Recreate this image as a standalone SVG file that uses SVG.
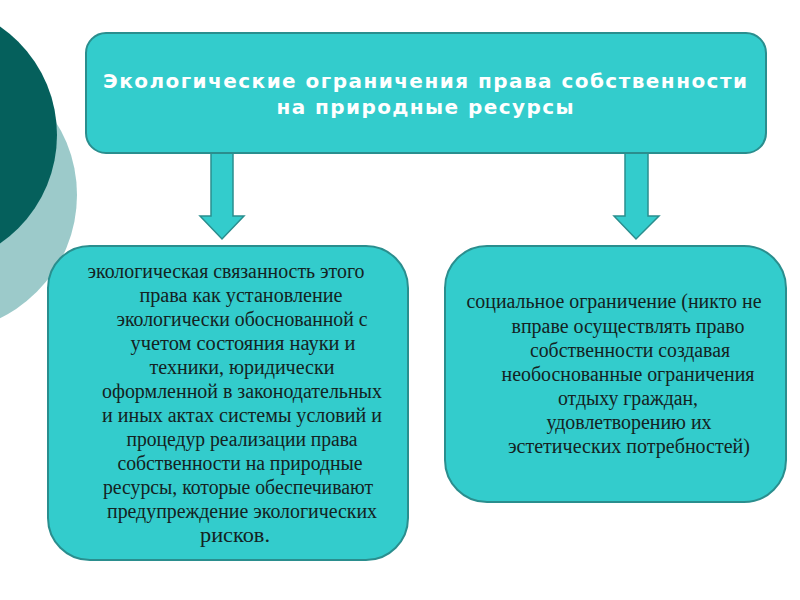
<svg xmlns="http://www.w3.org/2000/svg" width="800" height="600" viewBox="0 0 800 600">
<style>
.box{fill:#33cccc;stroke:#2a8e8e;stroke-width:2}
.arrow{fill:#33cccc;stroke:#2a8e8e;stroke-width:1.5}
.title{font-family:"DejaVu Sans",Verdana,sans-serif;font-weight:bold;font-size:20px;fill:#ffffff;text-anchor:middle}
.body{font-family:"Liberation Serif","Times New Roman",serif;font-size:20px;fill:#142222;text-anchor:middle}
</style>
<rect width="800" height="600" fill="#ffffff"/>
<g id="background">
<circle cx="-60" cy="195" r="137" fill="#9ccaca"/>
<circle cx="-75" cy="135" r="132" fill="#05605c"/>
</g>
<g id="connectors">
<path class="arrow" d="M211 153 L233 153 L233 216 L244 216 L222 239 L200 216 L211 216 Z"/>
<path class="arrow" d="M625 153 L648 153 L648 216 L659 216 L636 239 L614 216 L625 216 Z"/>
</g>
<g id="top">
<rect class="box" x="86" y="33" width="680" height="120" rx="20" ry="20"/>
<text class="title" x="425" y="88" textLength="644" lengthAdjust="spacing">Экологические ограничения права собственности</text>
<text class="title" x="425" y="114" textLength="297" lengthAdjust="spacing">на природные ресурсы</text>
</g>
<g id="left">
<rect class="box" x="48" y="246" width="360" height="314" rx="42" ry="42"/>
<text class="body" x="226" y="278" textLength="277" lengthAdjust="spacingAndGlyphs">экологическая связанность этого</text>
<text class="body" x="241" y="302" textLength="203" lengthAdjust="spacingAndGlyphs">права как установление</text>
<text class="body" x="242" y="326" textLength="251" lengthAdjust="spacingAndGlyphs">экологически обоснованной с</text>
<text class="body" x="243" y="350" textLength="225" lengthAdjust="spacingAndGlyphs">учетом состояния науки и</text>
<text class="body" x="242" y="374" textLength="185" lengthAdjust="spacingAndGlyphs">техники, юридически</text>
<text class="body" x="242" y="398" textLength="280" lengthAdjust="spacingAndGlyphs">оформленной в законодательных</text>
<text class="body" x="242" y="422" textLength="280" lengthAdjust="spacingAndGlyphs">и иных актах системы условий и</text>
<text class="body" x="242" y="446" textLength="231" lengthAdjust="spacingAndGlyphs">процедур реализации права</text>
<text class="body" x="240" y="470" textLength="245" lengthAdjust="spacingAndGlyphs">собственности на природные</text>
<text class="body" x="238" y="494" textLength="270" lengthAdjust="spacingAndGlyphs">ресурсы, которые обеспечивают</text>
<text class="body" x="242" y="518" textLength="270" lengthAdjust="spacingAndGlyphs">предупреждение экологических</text>
<text class="body" x="235" y="542" textLength="70" lengthAdjust="spacingAndGlyphs">рисков.</text>
</g>
<g id="right">
<rect class="box" x="445" y="246" width="341" height="256" rx="42" ry="42"/>
<text class="body" x="614" y="308" textLength="295" lengthAdjust="spacingAndGlyphs">социальное ограничение (никто не</text>
<text class="body" x="628" y="333" textLength="233" lengthAdjust="spacingAndGlyphs">вправе осуществлять право</text>
<text class="body" x="630" y="357" textLength="200" lengthAdjust="spacingAndGlyphs">собственности создавая</text>
<text class="body" x="628" y="381" textLength="253" lengthAdjust="spacingAndGlyphs">необоснованные ограничения</text>
<text class="body" x="628" y="405" textLength="140" lengthAdjust="spacingAndGlyphs">отдыху граждан,</text>
<text class="body" x="629" y="429" textLength="165" lengthAdjust="spacingAndGlyphs">удовлетворению их</text>
<text class="body" x="629" y="453" textLength="242" lengthAdjust="spacingAndGlyphs">эстетических потребностей)</text>
</g>
</svg>
